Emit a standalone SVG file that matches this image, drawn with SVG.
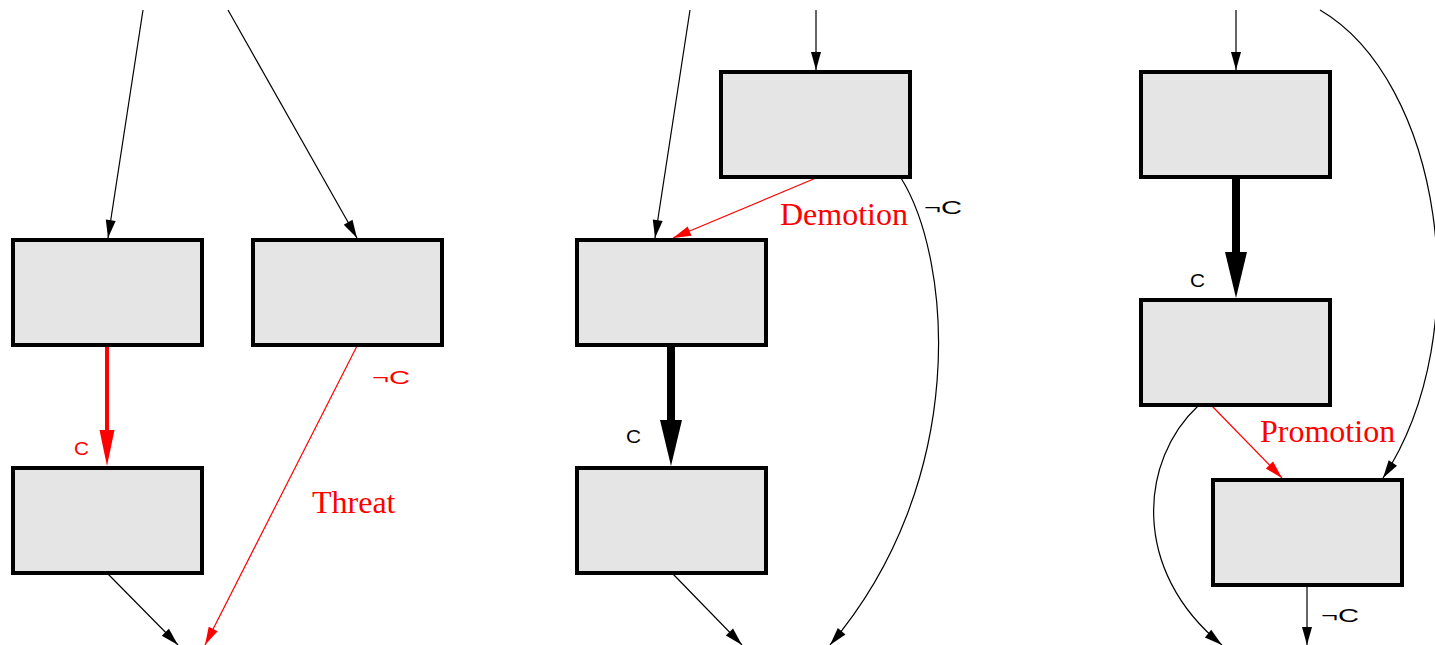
<svg xmlns="http://www.w3.org/2000/svg" width="1435" height="645" viewBox="0 0 1435 645">
<style>
.box{fill:#e5e5e5;stroke:#000;stroke-width:4}
.thin{fill:none;stroke:#000;stroke-width:1.2}
.thinr{fill:none;stroke:#f00;stroke-width:1.2}
.thick{fill:none;stroke:#000;stroke-width:8}
.thickr{fill:none;stroke:#f00;stroke-width:4}
.lbl{font-family:"Liberation Sans",Arial,sans-serif;font-size:19px}
.big{font-family:"Liberation Serif","Times New Roman",serif;font-size:32px;fill:#f00}
</style>
<defs>
<marker id="ah" markerUnits="userSpaceOnUse" markerWidth="18" markerHeight="10" refX="18" refY="5" orient="auto" overflow="visible"><path d="M0,0 L18,5 L0,10 z" fill="#000"/></marker>
<marker id="ahr" markerUnits="userSpaceOnUse" markerWidth="18" markerHeight="10" refX="18" refY="5" orient="auto" overflow="visible"><path d="M0,0 L18,5 L0,10 z" fill="#f00"/></marker>
<marker id="ahk" markerUnits="userSpaceOnUse" markerWidth="46" markerHeight="22" refX="0" refY="11" orient="auto" overflow="visible"><path d="M0,0 L46,11 L0,22 z" fill="#000"/></marker>
<marker id="ahkr" markerUnits="userSpaceOnUse" markerWidth="36" markerHeight="15" refX="0" refY="7.5" orient="auto" overflow="visible"><path d="M0,0 L36,7.5 L0,15 z" fill="#f00"/></marker>
</defs>
<g id="connectors">
<path class="thin" d="M143,10 L108,238" marker-end="url(#ah)"/>
<path class="thin" d="M228,10 L357,238" marker-end="url(#ah)"/>
<path class="thickr" d="M107,346 L107,430" marker-end="url(#ahkr)"/>
<path class="thinr" d="M357,346 L205,645" marker-end="url(#ahr)"/>
<path class="thin" d="M108,574 L178,645" marker-end="url(#ah)"/>
<path class="thin" d="M690,10 L655,238" marker-end="url(#ah)"/>
<path class="thin" d="M816,10 L816,70" marker-end="url(#ah)"/>
<path class="thinr" d="M816,178 L673,238" marker-end="url(#ahr)"/>
<path class="thin" d="M901,178 C952,260 970,480 830,645" marker-end="url(#ah)"/>
<path class="thick" d="M671,346 L671,420" marker-end="url(#ahk)"/>
<path class="thin" d="M673,574 L742,645" marker-end="url(#ah)"/>
<path class="thin" d="M1236,10 L1236,70" marker-end="url(#ah)"/>
<path class="thick" d="M1236,178 L1236,252" marker-end="url(#ahk)"/>
<path class="thin" d="M1320,10 C1440,80 1480,330 1383,478" marker-end="url(#ah)"/>
<path class="thinr" d="M1212,406 L1282,478" marker-end="url(#ahr)"/>
<path class="thin" d="M1198,406 C1140,460 1130,570 1222,645" marker-end="url(#ah)"/>
<path class="thin" d="M1307,586 L1307,645" marker-end="url(#ah)"/>
</g>
<g id="boxA"><rect class="box" x="13" y="240" width="189" height="105"/></g>
<g id="boxB"><rect class="box" x="253" y="240" width="189" height="105"/></g>
<g id="boxC"><rect class="box" x="13" y="468" width="189" height="105"/></g>
<g id="boxD"><rect class="box" x="721" y="72" width="189" height="105"/></g>
<g id="boxE"><rect class="box" x="577" y="240" width="189" height="105"/></g>
<g id="boxF"><rect class="box" x="577" y="468" width="189" height="105"/></g>
<g id="boxG"><rect class="box" x="1141" y="72" width="189" height="105"/></g>
<g id="boxH"><rect class="box" x="1141" y="300" width="189" height="105"/></g>
<g id="boxI"><rect class="box" x="1213" y="480" width="189" height="105"/></g>
<g id="labels">
<text class="lbl" x="74" y="455" fill="#f00" textLength="15" lengthAdjust="spacingAndGlyphs">C</text>
<text class="lbl" x="372" y="384" fill="#f00" textLength="38" lengthAdjust="spacingAndGlyphs">¬C</text>
<text class="big" x="312" y="513">Threat</text>
<text class="big" x="780" y="225">Demotion</text>
<text class="lbl" x="924" y="214" textLength="38" lengthAdjust="spacingAndGlyphs">¬C</text>
<text class="lbl" x="626" y="443" textLength="15" lengthAdjust="spacingAndGlyphs">C</text>
<text class="lbl" x="1190" y="287" textLength="15" lengthAdjust="spacingAndGlyphs">C</text>
<text class="big" x="1260" y="442">Promotion</text>
<text class="lbl" x="1321" y="622" textLength="38" lengthAdjust="spacingAndGlyphs">¬C</text>
</g>
</svg>
